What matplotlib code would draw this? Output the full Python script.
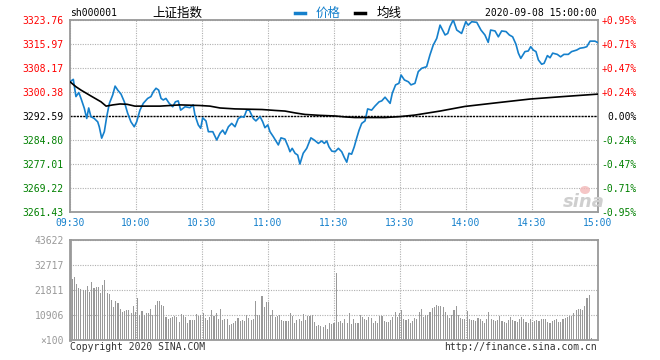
import numpy as np
import matplotlib.pyplot as plt
from matplotlib.lines import Line2D
from matplotlib.patches import Ellipse

W, H = 660, 360

# ---------------- data ----------------
prev_close = 3292.59
price_ticks = [3261.43, 3269.22, 3277.01, 3284.80, 3292.59, 3300.38, 3308.17, 3315.97, 3323.76]
pct_labels = ["-0.95%", "-0.71%", "-0.47%", "-0.24%", "0.00%", "+0.24%", "+0.47%", "+0.71%", "+0.95%"]
time_ticks = [0, 30, 60, 90, 120, 150, 180, 210, 240]
time_labels = ["09:30", "10:00", "10:30", "11:00", "11:30", "13:30", "14:00", "14:30", "15:00"]
vol_ticks = [0, 10906, 21811, 32717, 43622]
vol_labels = ["\u00d7100", "10906", "21811", "32717", "43622"]

# minutes since 09:30 (lunch break removed) and index level
price_min = [0, 1.5, 2.7, 4.0, 5.0, 6.5, 7.6, 8.5, 9.5, 11.0, 12.6, 13.3, 14.4, 15.6, 16.7,
             17.9, 19.4, 20.5, 21.7, 23.2, 24.7, 26.2, 27.7, 29.2, 30.3, 31.8, 33.3, 35.3,
             36.8, 37.9, 39.1, 40.3, 41.4, 42.4, 43.6, 45.1, 46.7, 47.9, 49.2, 50.3, 52.3,
             54.5, 56.0, 56.8, 58.3, 59.4, 60.3, 61.8, 62.9, 64.9, 66.7, 68.2, 69.4, 70.5,
             72.0, 73.5, 75.0, 76.5, 78.0, 79.1, 80.3, 81.5, 83.3, 84.5, 86.4, 87.6, 88.6,
             89.9, 90.9, 92.4, 94.0, 94.7, 95.9, 97.7, 99.2, 100.0, 101.0, 102.3, 103.5,
             104.5, 106.0, 107.6, 109.5, 111.0, 112.9, 114.4, 115.6, 116.7, 117.7, 119.0,
             120.5, 122.0, 123.5, 124.7, 125.8, 126.8, 128.0, 129.2, 130.3, 131.4, 132.6,
             134.1, 135.3, 137.1, 138.6, 140.5, 141.7, 143.2, 145.5, 146.5, 148.0, 149.5,
             150.5, 152.0, 153.8, 155.0, 156.8, 158.3, 159.9, 162.1, 163.6, 165.1, 166.7,
             168.2, 170.5, 171.7, 172.7, 174.2, 175.8, 178.0, 179.9, 181.0, 182.6, 184.9,
             186.8, 188.6, 190.1, 191.2, 193.2, 194.7, 196.2, 198.2, 199.7, 201.2, 202.7,
             203.8, 204.9, 206.8, 208.3, 209.4, 210.6, 211.8, 212.9, 214.4, 215.5, 217.0,
             218.2, 219.4, 221.5, 223.0, 224.5, 226.5, 228.0, 230.3, 231.8, 233.6, 234.9,
             236.4, 238.6, 240]
price_val = [3303.7, 3304.5, 3298.9, 3300.2, 3298.3, 3295.1, 3291.8, 3295.2, 3292.4, 3291.8,
             3290.7, 3289.1, 3285.4, 3287.5, 3292.4, 3296.7, 3299.4, 3302.3, 3301.0, 3299.7,
             3297.2, 3293.5, 3290.7, 3289.1, 3290.7, 3294.5, 3296.7, 3298.3, 3298.9, 3300.5,
             3301.6, 3301.0, 3298.3, 3297.8, 3298.3, 3296.7, 3295.6, 3297.2, 3297.5, 3294.5,
             3295.6, 3295.3, 3296.2, 3292.9, 3289.7, 3288.6, 3292.0, 3291.0, 3287.5, 3287.5,
             3284.8, 3287.0, 3288.0, 3286.7, 3289.1, 3290.2, 3289.1, 3291.8, 3292.4, 3292.2,
             3294.5, 3294.5, 3291.8, 3291.0, 3292.4, 3290.7, 3288.8, 3289.7, 3287.5, 3285.9,
             3284.0, 3283.2, 3285.5, 3285.1, 3282.6, 3281.0, 3282.1, 3280.5, 3279.9, 3277.0,
             3280.5, 3282.1, 3285.5, 3284.8, 3283.7, 3284.5, 3283.7, 3284.5, 3282.6, 3281.2,
             3281.0, 3282.1, 3281.0, 3279.1, 3277.6, 3280.5, 3280.2, 3282.6, 3285.4, 3288.0,
             3290.2, 3291.0, 3294.9, 3294.5, 3295.8, 3297.2, 3297.5, 3298.7, 3296.7, 3300.0,
             3302.7, 3303.2, 3305.9, 3304.3, 3303.7, 3302.7, 3303.2, 3307.0, 3308.1, 3308.6,
             3312.4, 3315.6, 3317.8, 3322.1, 3318.9, 3319.4, 3321.6, 3323.8, 3320.5, 3319.4,
             3323.2, 3322.1, 3323.2, 3323.0, 3320.5, 3318.9, 3316.5, 3320.5, 3320.2, 3318.3,
             3320.2, 3320.0, 3318.9, 3318.3, 3315.9, 3313.0, 3311.3, 3313.5, 3313.7, 3315.1,
             3314.0, 3313.5, 3310.8, 3309.4, 3309.7, 3312.2, 3311.5, 3313.0, 3312.6, 3311.8,
             3312.6, 3312.6, 3313.5, 3314.0, 3314.6, 3314.8, 3315.1, 3316.9, 3316.9, 3316.4]

avg_min = [0, 2.7, 5.0, 9.5, 14.1, 16.4, 19.5, 22.7, 25.9, 29.5, 40.9, 50.0, 59.1, 63.6,
           68.2, 75.0, 87.3, 93.2, 97.7, 102.3, 106.8, 113.6, 120.5, 125.0, 129.5, 143.2,
           150.0, 156.8, 168.2, 179.5, 194.1, 209.1, 224.1, 240]
avg_val = [3303.7, 3302.1, 3301.0, 3299.1, 3297.2, 3295.8, 3296.2, 3296.5, 3296.4, 3295.8,
           3295.8, 3296.2, 3296.0, 3295.8, 3295.2, 3294.9, 3294.7, 3294.4, 3294.2, 3293.6,
           3293.1, 3292.8, 3292.6, 3292.3, 3292.1, 3292.1, 3292.4, 3292.9, 3294.2, 3295.7,
           3296.9, 3298.1, 3298.9, 3299.7]

# volume (x100 shares), one bar per minute
vol_am = [26500, 27300, 24400, 22500, 22100, 21800, 21800, 23600, 21100, 25400,
          22500, 23000, 23300, 20400, 24000, 26200, 20400, 20100, 17400, 14500,
          17200, 16300, 13400, 12400, 12800, 13100, 13100, 11900, 14800, 12400,
          18200, 10900, 12800, 10900, 11600, 11600, 13500, 10900, 15300, 17000,
          17000, 15300, 14800, 9900, 9000, 9500, 9900, 10500, 9900, 8000,
          11300, 10900, 10200, 7600, 8700, 8700, 8700, 11300, 10500, 10900,
          11600, 9500, 8700, 9900, 13100, 10500, 11600, 9000, 13500, 8700,
          9000, 9000, 6500, 7000, 7600, 8400, 9500, 8400, 8700, 8400,
          10900, 9500, 8700, 9000, 17200, 10900, 10900, 19200, 14500, 16700,
          16700, 10900, 13100, 9900, 10500, 10900, 8700, 8400, 8400, 8400,
          11600, 10500, 7300, 8700, 9000, 8400, 11300, 8700, 10500, 10500,
          10900, 8000, 6100, 6500, 6100, 5800, 6500, 4700, 7600]
vol_pm = [7000, 7300, 29100, 8000, 8400, 7600, 9000, 7600, 11600, 7000,
          9000, 7300, 7600, 10900, 9900, 9000, 8700, 9900, 9500, 7600,
          8400, 7300, 10500, 10500, 8400, 8000, 8000, 8700, 9900, 12400,
          9900, 11900, 13100, 9000, 8700, 9000, 7600, 8400, 9500, 9000,
          12400, 13400, 9900, 10900, 10900, 12400, 13800, 14500, 15300, 14800,
          14800, 14500, 12400, 10900, 9500, 10900, 13100, 14800, 10900, 9500,
          9000, 9000, 12800, 9000, 8700, 8700, 8400, 9500, 9000, 8400,
          7600, 9000, 12400, 9000, 8700, 8400, 8700, 10500, 8400, 8000,
          7600, 8700, 9900, 8700, 8400, 8000, 9000, 9900, 9000, 8000,
          7600, 9000, 8000, 8400, 8700, 8400, 9000, 9000, 9000, 8000,
          7600, 8400, 8700, 9000, 8000, 8000, 9000, 9500, 9900, 10500,
          10500, 11600, 13100, 13400, 13400, 13100, 14800, 18200, 19600, 700]

BLUE = "#1580cc"
RED = "#ff0000"
GREEN = "#008000"
GRAY = "#999999"
MONO = "DejaVu Sans Mono"
CJK = ["Noto Sans CJK SC", "DejaVu Sans"]


def fx(x):
    return x / W


def fy(y):
    return 1 - y / H


fig = plt.figure(figsize=(W / 100, H / 100), dpi=100)
fig.patch.set_facecolor("white")

# ---------------- price panel ----------------
ax = fig.add_axes([fx(70), fy(212), 528 / W, 192 / H])
ax.plot(price_min, price_val, color=BLUE, lw=1.2, zorder=3)
ax.plot(avg_min, avg_val, color="black", lw=1.2, zorder=3)
ax.axhline(prev_close, color="black", lw=1.0, linestyle=(0, (1.5, 0.8)), zorder=2)

ax.set_xlim(0, 240)
ax.set_ylim(price_ticks[0], price_ticks[-1])
ax.set_xticks(time_ticks)
ax.set_xticklabels(time_labels, fontfamily=MONO, fontsize=7, color=BLUE)
ax.set_yticks(price_ticks)
ax.set_yticklabels([f"{v:.2f}" for v in price_ticks], fontfamily=MONO, fontsize=7)
for v, lab in zip(price_ticks, ax.get_yticklabels()):
    lab.set_color(RED if v > prev_close + 0.01 else (GREEN if v < prev_close - 0.01 else "black"))
ax.tick_params(axis="both", length=0)
ax.tick_params(axis="y", pad=4.5)
ax.tick_params(axis="x", pad=4)
ax.grid(True, color="#b0b0b0", linestyle=(0, (1, 1.2)), lw=0.8)
for s in ax.spines.values():
    s.set_color(GRAY)
    s.set_linewidth(1.3)

axr = ax.twinx()
axr.set_ylim(price_ticks[0], price_ticks[-1])
axr.set_yticks(price_ticks)
axr.set_yticklabels(pct_labels, fontfamily=MONO, fontsize=7)
for v, lab in zip(price_ticks, axr.get_yticklabels()):
    lab.set_color(RED if v > prev_close + 0.01 else (GREEN if v < prev_close - 0.01 else "black"))
    lab.set_horizontalalignment("right")
axr.tick_params(axis="y", length=0, pad=28)
for s in axr.spines.values():
    s.set_visible(False)

# sina watermark
fig.text(fx(584), fy(202), "sina", fontsize=13, fontstyle="italic", fontweight="bold",
         color="#cfcfcf", ha="center", va="center")
fig.add_artist(Ellipse((fx(585), fy(190)), 10 / W, 8 / H, transform=fig.transFigure,
                       facecolor="#f3b8b8", edgecolor="none", alpha=0.8))

# ---------------- volume panel ----------------
vol = vol_am + vol_pm
vx = np.linspace(1, 237, len(vol))
axv = fig.add_axes([fx(70), fy(340), 528 / W, 100 / H])
axv.bar(vx, vol, width=0.5, color=GRAY, edgecolor="none", zorder=3)
axv.set_xlim(0, 240)
axv.set_ylim(0, vol_ticks[-1])
axv.set_xticks(time_ticks)
axv.set_xticklabels([])
axv.set_yticks(vol_ticks)
axv.set_yticklabels(vol_labels, fontfamily=MONO, fontsize=7, color=GRAY)
axv.tick_params(axis="both", length=0)
axv.tick_params(axis="y", pad=4.5)
axv.grid(True, color="#b0b0b0", linestyle=(0, (1, 1.2)), lw=0.8)
for s in axv.spines.values():
    s.set_color(GRAY)
    s.set_linewidth(1.3)
axv.spines["left"].set_linewidth(2)

# ---------------- header / footer text ----------------
fig.text(fx(70), fy(13), "sh000001", fontfamily=MONO, fontsize=7, color="black",
         ha="left", va="center")
fig.text(fx(177), fy(13), "上证指数", fontfamily=CJK, fontsize=9, color="black",
         ha="center", va="center")
fig.add_artist(Line2D([fx(295), fx(305)], [fy(13), fy(13)], color=BLUE, lw=2.5,
                      transform=fig.transFigure))
fig.text(fx(316), fy(13), "价格", fontfamily=CJK, fontsize=9, color=BLUE,
         ha="left", va="center")
fig.add_artist(Line2D([fx(355), fx(365)], [fy(13), fy(13)], color="black", lw=2.5,
                      transform=fig.transFigure))
fig.text(fx(377), fy(13), "均线", fontfamily=CJK, fontsize=9, color="black",
         ha="left", va="center")
fig.text(fx(597), fy(13), "2020-09-08 15:00:00", fontfamily=MONO, fontsize=7,
         color="black", ha="right", va="center")

fig.text(fx(70), fy(347), "Copyright 2020 SINA.COM", fontfamily=MONO, fontsize=7,
         color="#333333", ha="left", va="center")
fig.text(fx(597), fy(347), "http://finance.sina.com.cn", fontfamily=MONO, fontsize=7,
         color="#333333", ha="right", va="center")

fig.savefig("out.png", dpi=100)
